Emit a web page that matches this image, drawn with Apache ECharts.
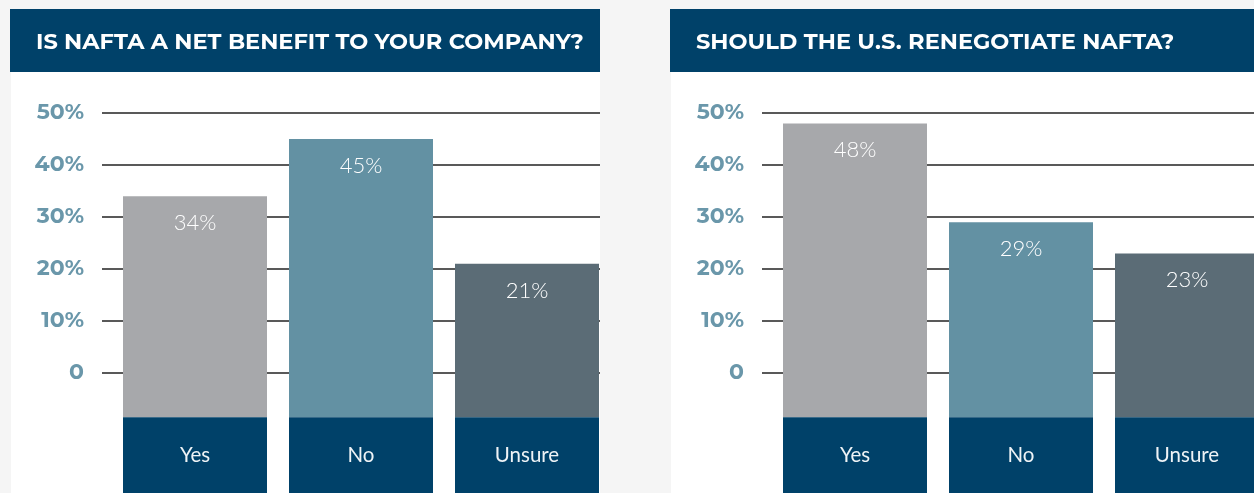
<!DOCTYPE html>
<html>
<head>
<meta charset="utf-8">
<script src="https://cdn.jsdelivr.net/npm/echarts@6/dist/echarts.min.js"></script>
<style>
  html, body { margin: 0; padding: 0; background: #f5f5f5; overflow: hidden; }
  #chart { width: 1272px; height: 493px; }
</style>
</head>
<body>
<div id="chart"></div>
<script>
// Survey answers, percent of respondents
const categories = ['Yes', 'No', 'Unsure'];
const benefitValues = [34, 45, 21];
const renegotiateValues = [48, 29, 23];
const benefitTitle = 'IS NAFTA A NET BENEFIT TO YOUR COMPANY?';
const renegotiateTitle = 'SHOULD THE U.S. RENEGOTIATE NAFTA?';

// Palette
const NAVY = '#004169';
const BAR_COLORS = ['#a7a8ab', '#6391a3', '#5b6c76'];
const AXIS_LABEL = '#6a97aa';

// Vertical geometry: 0..50 spans 113..373 px; the bar grid extends down to 493 px
const PLOT_TOP = 113;
const PX_PER_UNIT = 5.2;
const BAR_BOTTOM = 493;
const BAR_MIN = 50 - (BAR_BOTTOM - PLOT_TOP) / PX_PER_UNIT;
const BAR_FOOT = -8.5;      // colored bars continue a little below 0
const CAP_DEPTH = -16;      // navy caption block under each bar

const chart = echarts.init(document.getElementById('chart'));

function panel(offsetX, titleText, values, idx) {
  const gA = idx * 2, gB = idx * 2 + 1;
  const grids = [
    { left: 102 + offsetX, top: PLOT_TOP, width: 498, height: 260 },
    { left: 112 + offsetX, top: PLOT_TOP, width: 498, height: BAR_BOTTOM - PLOT_TOP }
  ];
  const xAxes = [
    { gridIndex: gA, type: 'category', data: categories, show: false },
    { gridIndex: gB, type: 'category', data: categories, show: false }
  ];
  const yAxes = [
    {
      gridIndex: gA, type: 'value', min: 0, max: 50, interval: 10,
      axisLine: { show: false }, axisTick: { show: false },
      splitLine: { lineStyle: { color: '#222222', width: 1.5 } },
      axisLabel: {
        margin: 18, color: AXIS_LABEL, fontSize: 22, fontWeight: 'bold',
        fontFamily: 'Montserrat, "Open Sans", sans-serif',
        formatter: v => v === 0 ? '0' : v + '%'
      }
    },
    { gridIndex: gB, type: 'value', min: BAR_MIN, max: 50, show: false, splitLine: { show: false } }
  ];
  const colored = (v, i) => ({ value: v, itemStyle: { color: BAR_COLORS[i] } });
  const series = [
    {
      type: 'bar', xAxisIndex: gB, yAxisIndex: gB,
      stack: 's' + idx, barWidth: 144,
      data: values.map(colored),
      label: {
        show: true, position: 'insideTop', distance: 16,
        color: '#ffffff', fontSize: 22, fontFamily: 'Lato, sans-serif', fontWeight: 300,
        formatter: p => p.value + '%'
      }
    },
    {
      type: 'bar', xAxisIndex: gB, yAxisIndex: gB,
      stack: 's' + idx, barWidth: 144,
      data: values.map((v, i) => colored(BAR_FOOT, i))
    },
    {
      type: 'bar', xAxisIndex: gB, yAxisIndex: gB,
      stack: 's' + idx, barWidth: 144,
      itemStyle: { color: NAVY },
      data: categories.map(() => CAP_DEPTH),
      label: {
        show: true, position: 'inside', color: '#eef3f6', fontSize: 20.5,
        fontFamily: 'Lato, sans-serif', formatter: p => p.name
      }
    }
  ];
  const graphics = [
    { type: 'rect', z: -10, shape: { x: 11 + offsetX, y: 9, width: 589, height: 484 }, style: { fill: '#ffffff' } },
    { type: 'rect', z: -9, shape: { x: 10 + offsetX, y: 9, width: 590, height: 63 }, style: { fill: NAVY } }
  ];
  const title = {
    text: titleText, left: 36 + offsetX, top: 31, padding: 0,
    textStyle: { color: '#ffffff', fontSize: 22.5, fontWeight: 'bold', fontFamily: 'Montserrat, "Open Sans", sans-serif' }
  };
  return { grids, xAxes, yAxes, series, graphics, title };
}

const p1 = panel(0, benefitTitle, benefitValues, 0);
const p2 = panel(660, renegotiateTitle, renegotiateValues, 1);

chart.setOption({
  backgroundColor: '#f5f5f5',
  animation: false,
  title: [p1.title, p2.title],
  graphic: { elements: [...p1.graphics, ...p2.graphics] },
  grid: [...p1.grids, ...p2.grids],
  xAxis: [...p1.xAxes, ...p2.xAxes],
  yAxis: [...p1.yAxes, ...p2.yAxes],
  series: [...p1.series, ...p2.series]
});
</script>
</body>
</html>
